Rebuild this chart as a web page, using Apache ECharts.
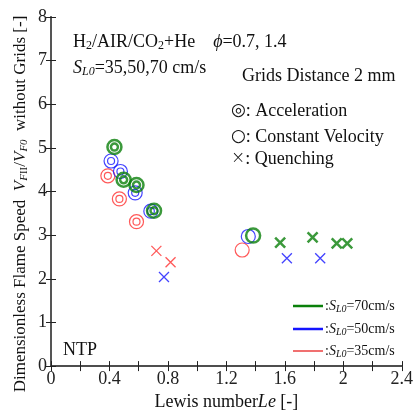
<!DOCTYPE html>
<html><head><meta charset="utf-8">
<script src="https://cdn.jsdelivr.net/npm/echarts@6/dist/echarts.min.js"></script>
<style>html,body{margin:0;padding:0;background:#fff}#c{width:416px;height:416px}</style>
</head><body><div id="c"></div>
<script>
// ---- data ----
var xTicks = [0, 0.4, 0.8, 1.2, 1.6, 2, 2.4];
var yTicks = [0, 1, 2, 3, 4, 5, 6, 7, 8];
// Acceleration (double circle)
var accel70X = [0.434, 0.497, 0.585, 0.705];
var accel70Y = [5.02, 4.27, 4.15, 3.56];
var accel50X = [0.411, 0.475, 0.576, 0.683];
var accel50Y = [4.70, 4.46, 3.97, 3.55];
var accel35X = [0.389, 0.468, 0.585];
var accel35Y = [4.36, 3.83, 3.31];
// Constant velocity (circle)
var const70X = [1.383], const70Y = [2.99];
var const50X = [1.35],  const50Y = [2.97];
var const35X = [1.308], const35Y = [2.66];
// Quenching (cross)
var quench70X = [1.568, 1.79, 1.955, 2.027];
var quench70Y = [2.83, 2.95, 2.81, 2.81];
var quench50X = [1.614, 1.842, 0.773];
var quench50Y = [2.47, 2.47, 2.04];
var quench35X = [0.721, 0.818];
var quench35Y = [2.64, 2.38];

var GREEN = '#0a800a', BLUE = '#1414ff', RED = '#ff3030';
var FONT = 'Liberation Serif';

function pts(xs, ys) { return xs.map(function (x, i) { return [x, ys[i]]; }); }

function ring(name, xs, ys, size, color, width) {
  return {
    type: 'scatter', name: name, data: pts(xs, ys), symbol: 'circle', symbolSize: size,
    itemStyle: { color: 'rgba(0,0,0,0)', borderColor: color, borderWidth: width },
    emphasis: { disabled: true }, silent: true
  };
}
function cross(name, xs, ys, size, color, width) {
  return {
    type: 'scatter', name: name, data: pts(xs, ys), symbol: 'path://M0,0L10,10M10,0L0,10', symbolSize: size,
    itemStyle: { color: 'rgba(0,0,0,0)', borderColor: color, borderWidth: width },
    emphasis: { disabled: true }, silent: true
  };
}

var rich = {
  n: { fontFamily: FONT, fontSize: 18, color: '#111' },
  i: { fontFamily: FONT, fontSize: 18, fontStyle: 'italic', color: '#111' },
  sub: { fontFamily: FONT, fontSize: 12, color: '#111', padding: [8, 0, 0, 0] },
  subi: { fontFamily: FONT, fontSize: 12, fontStyle: 'italic', color: '#111', padding: [8, 0, 0, 0] },
  sym: { fontFamily: 'DejaVu Sans', fontSize: 17, color: '#111' },
  symx: { fontFamily: 'DejaVu Sans', fontSize: 17, fontWeight: 'lighter', color: '#222' },
  tn: { fontFamily: FONT, fontSize: 17, color: '#111' },
  ti: { fontFamily: FONT, fontSize: 17, fontStyle: 'italic', color: '#111' },
  tsub: { fontFamily: FONT, fontSize: 11, color: '#111', padding: [7, 0, 0, 0] },
  tsubi: { fontFamily: FONT, fontSize: 11, fontStyle: 'italic', color: '#111', padding: [7, 0, 0, 0] },
  sn: { fontFamily: FONT, fontSize: 14, color: '#111' },
  si: { fontFamily: FONT, fontSize: 14, fontStyle: 'italic', color: '#111' },
  ssubi: { fontFamily: FONT, fontSize: 10, fontStyle: 'italic', color: '#111', padding: [6, 0, 0, 0] }
};

function txt(x, y, text, extra) {
  var o = { type: 'text', x: x, y: y, z: 100, silent: true,
    style: { text: text, rich: rich, font: '18px ' + FONT, fill: '#111', verticalAlign: 'middle', align: 'left' } };
  if (extra) for (var k in extra) o[k] = extra[k];
  return o;
}
function legLine(y, color, w) {
  return { type: 'line', z: 100, silent: true, shape: { x1: 293, y1: y, x2: 323, y2: y }, style: { stroke: color, lineWidth: w } };
}

var yTitle = '{tn|Dimensionless Flame Speed  }{ti|V}{tsubi|F}{tsub|II}{tn|/}{ti|V}{tsubi|F0}{tn|  without Grids [-]}';

var axisLine = { show: true, lineStyle: { color: '#444', width: 1.5 } };
var option = {
  animation: false,
  grid: { left: 51, right: 11, top: 17, bottom: 46 },
  xAxis: [{
    type: 'value', min: xTicks[0], max: xTicks[xTicks.length - 1], interval: 0.4,
    axisLine: axisLine, splitLine: { show: false },
    axisTick: { inside: true, length: 5, lineStyle: { color: '#222' } },
    minorTick: { show: true, splitNumber: 2, length: 5, lineStyle: { color: '#222' } },
    axisLabel: { fontFamily: FONT, fontSize: 18, color: '#222', margin: 4,
      formatter: function (v) { return String(Math.round(v * 10) / 10); } },
    name: '{n|Lewis number}{i|Le}{n| [-]}', nameLocation: 'middle', nameGap: 25,
    nameTextStyle: { rich: rich }
  }, {
    type: 'value', position: 'top', min: 0, max: 2.4, interval: 0.2,
    axisLine: axisLine, splitLine: { show: false }, axisLabel: { show: false },
    axisTick: { inside: true, length: 5, lineStyle: { color: '#222' } }
  }],
  yAxis: [{
    type: 'value', min: yTicks[0], max: yTicks[yTicks.length - 1], interval: 1,
    axisLine: axisLine, splitLine: { show: false },
    axisTick: { inside: true, length: 5, lineStyle: { color: '#222' } },
    axisLabel: { fontFamily: FONT, fontSize: 18, color: '#222', margin: 4 }
  }, {
    type: 'value', position: 'right', min: 0, max: 8, interval: 1,
    axisLine: { show: true, lineStyle: { color: '#555', width: 2 } }, splitLine: { show: false }, axisLabel: { show: false },
    axisTick: { inside: true, length: 5, lineStyle: { color: '#222' } }
  }],
  series: [
    ring('a35o', accel35X, accel35Y, 14, RED, 1.2),
    ring('a35i', accel35X, accel35Y, 7, RED, 1.2),
    ring('a50o', accel50X, accel50Y, 14, BLUE, 1.2),
    ring('a50i', accel50X, accel50Y, 7, BLUE, 1.2),
    ring('a70o', accel70X, accel70Y, 14, GREEN, 2.5),
    ring('a70i', accel70X, accel70Y, 7, GREEN, 2.5),
    ring('c35', const35X, const35Y, 14, RED, 1.2),
    ring('c50', const50X, const50Y, 14, BLUE, 1.2),
    ring('c70', const70X, const70Y, 14, GREEN, 2.5),
    cross('q35', quench35X, quench35Y, 10, RED, 1.3),
    cross('q50', quench50X, quench50Y, 10, BLUE, 1.3),
    cross('q70', quench70X, quench70Y, 10, GREEN, 2.5)
  ],
  graphic: [
    txt(73, 42, '{n|H}{sub|2}{n|/AIR/CO}{sub|2}{n|+He    }{i|ϕ}{n|=0.7, 1.4}'),
    txt(73, 68, '{i|S}{subi|L0}{n|=35,50,70 cm/s}'),
    txt(242, 76, '{n|Grids Distance 2 mm}'),
    txt(231, 111, '{sym|◎}{n|: Acceleration}'),
    txt(231, 137, '{sym|○}{n|: Constant Velocity}'),
    txt(231, 159, '{symx|×}{n|: Quenching}'),
    txt(63, 350, '{n|NTP}'),
    legLine(306, GREEN, 2.5), legLine(329, BLUE, 2.5), legLine(351, '#f07070', 2),
    txt(325, 306, '{sn|:}{si|S}{ssubi|L0}{sn|=70cm/s}'),
    txt(325, 329, '{sn|:}{si|S}{ssubi|L0}{sn|=50cm/s}'),
    txt(325, 351, '{sn|:}{si|S}{ssubi|L0}{sn|=35cm/s}'),
    txt(21, 204, yTitle,
      { rotation: Math.PI / 2, style: { text: yTitle,
        rich: rich, font: '17px ' + FONT, fill: '#111', verticalAlign: 'middle', align: 'center' } })
  ]
};
echarts.init(document.getElementById('c')).setOption(option);
</script></body></html>
